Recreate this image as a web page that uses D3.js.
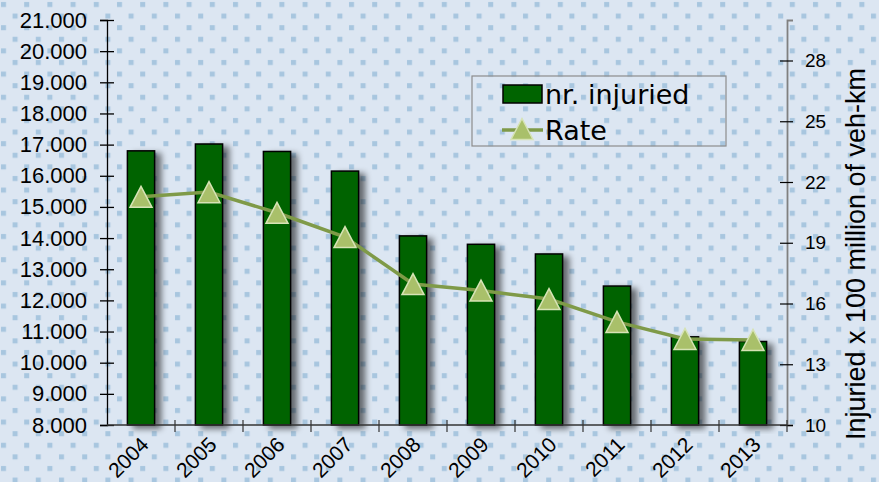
<!DOCTYPE html>
<html>
<head>
<meta charset="utf-8">
<script src="https://cdn.jsdelivr.net/npm/d3@7"></script>
<title>Injured</title>
<style>
body { margin: 0; }
</style>
</head>
<body>
<script>

var years = ["2004", "2005", "2006", "2007", "2008", "2009", "2010", "2011", "2012", "2013"];
var injured = [16800, 17020, 16780, 16150, 14070, 13800, 13490, 12460, 10830, 10680];
var rate = [21.27, 21.5, 20.48, 19.28, 16.96, 16.64, 16.22, 15.09, 14.25, 14.2];
var leftTicks = d3.range(8000, 21001, 1000);
var rightTicks = [10, 13, 16, 19, 22, 25, 28];

var width = 879,
    height = 482;

var svg = d3.select( "body" )
  .append( "svg" )
  .attr( "width", width )
  .attr( "height", height );

var defs = svg.append( "defs" );

// dotted slide background
var pat = defs.append( "pattern" )
  .attr( "id", "dots" )
  .attr( "patternUnits", "userSpaceOnUse" )
  .attr( "width", 23.2 )
  .attr( "height", 23.2 );
pat.append( "rect" ).attr( "width", 23.2 ).attr( "height", 23.2 ).attr( "fill", "#dce6f2" );
pat.append( "rect" ).attr( "x", 1 ).attr( "y", 2 ).attr( "width", 5 ).attr( "height", 5 ).attr( "fill", "#a8c6df" );
pat.append( "rect" ).attr( "x", 12.6 ).attr( "y", 13.6 ).attr( "width", 5 ).attr( "height", 5 ).attr( "fill", "#a8c6df" );

var f = defs.append( "filter" )
  .attr( "id", "shadow" )
  .attr( "x", "-30%" ).attr( "y", "-10%" )
  .attr( "width", "180%" ).attr( "height", "120%" );
f.append( "feGaussianBlur" ).attr( "in", "SourceAlpha" ).attr( "stdDeviation", 3 );
f.append( "feOffset" ).attr( "dx", 6 ).attr( "dy", 3 );
f.append( "feComponentTransfer" ).append( "feFuncA" ).attr( "type", "linear" ).attr( "slope", 0.55 );
var fm = f.append( "feMerge" );
fm.append( "feMergeNode" );
fm.append( "feMergeNode" ).attr( "in", "SourceGraphic" );

svg.append( "rect" )
  .attr( "width", width )
  .attr( "height", height )
  .attr( "fill", "url(#dots)" );

var mLeft = 107, mRight = 787, mTop = 20, mBottom = 425;

var x = d3.scaleBand()
  .domain( years )
  .range( [mLeft, mRight] );

var y = d3.scaleLinear()
  .domain( [8000, 21000] )
  .range( [mBottom, mTop] );

var yR = d3.scaleLinear()
  .domain( [10, 30] )
  .range( [mBottom, mTop] );

var fmt = d3.formatLocale({ decimal: ",", thousands: ".", grouping: [3], currency: ["", ""] }).format( ",.0f" );

var barW = x.bandwidth() * 0.4;

// bars
svg.append( "g" )
  .selectAll( "rect" )
  .data( injured )
  .enter()
  .append( "rect" )
  .attr( "x", function(d, i) { return x(years[i]) + x.bandwidth() / 2 - barW / 2; } )
  .attr( "y", function(d) { return y(d); } )
  .attr( "width", barW )
  .attr( "height", function(d) { return mBottom - y(d); } )
  .attr( "fill", "#006400" )
  .attr( "stroke", "#000" )
  .attr( "stroke-width", 1.5 )
  .attr( "filter", "url(#shadow)" );

// left axis
svg.append( "g" )
  .attr( "transform", "translate(" + mLeft + ",0)" )
  .call( d3.axisLeft(y).tickValues(leftTicks).tickFormat(fmt).tickSize(7).tickPadding(13) )
  .call( function(g) {
    g.select( ".domain" ).attr( "stroke", "#000" ).attr( "stroke-width", 1.3 );
    g.selectAll( ".tick line" ).attr( "x1", -7 ).attr( "x2", 7 ).attr( "stroke", "#000" ).attr( "stroke-width", 1.3 );
    g.selectAll( "text" ).attr( "font-family", "Liberation Sans, Arial" ).attr( "font-size", 22 ).attr( "fill", "#000" );
  });

// right axis
svg.append( "g" )
  .attr( "transform", "translate(" + mRight + ",0)" )
  .call( d3.axisRight(yR).tickValues(rightTicks).tickSize(6).tickPadding(12) )
  .call( function(g) {
    g.select( ".domain" ).attr( "stroke", "#808080" ).attr( "stroke-width", 1.8 );
    g.selectAll( ".tick line" ).attr( "x1", -7 ).attr( "x2", 6 ).attr( "stroke", "#000" ).attr( "stroke-width", 1.2 );
    g.selectAll( "text" ).attr( "font-family", "Liberation Sans, Arial" ).attr( "font-size", 19 ).attr( "fill", "#000" );
  });

// bottom axis
var xa = svg.append( "g" )
  .attr( "transform", "translate(0," + mBottom + ")" );
xa.append( "line" )
  .attr( "x1", mLeft ).attr( "x2", mRight )
  .attr( "stroke", "#333" ).attr( "stroke-width", 1.3 );
xa.selectAll( "line.t" )
  .data( years.slice(1).concat(["end"]) )
  .enter()
  .append( "line" )
  .attr( "class", "t" )
  .attr( "x1", function(d) { return d == "end" ? mRight : x(d); } )
  .attr( "x2", function(d) { return d == "end" ? mRight : x(d); } )
  .attr( "y1", -5 ).attr( "y2", 7 )
  .attr( "stroke", "#333" ).attr( "stroke-width", 1.2 );
xa.selectAll( "text" )
  .data( years )
  .enter()
  .append( "text" )
  .attr( "transform", function(d) { return "translate(" + (x(d) + x.bandwidth() / 2 + 9) + ",21) rotate(-45)"; } )
  .attr( "text-anchor", "end" )
  .attr( "font-family", "Liberation Sans, Arial" )
  .attr( "font-size", 21 )
  .text( function(d) { return d; } );

// rate line
var line = d3.line()
  .x( function(d, i) { return x(years[i]) + x.bandwidth() / 2; } )
  .y( function(d) { return yR(d); } );

svg.append( "path" )
  .datum( rate )
  .attr( "d", line )
  .attr( "fill", "none" )
  .attr( "stroke", "#7f9a48" )
  .attr( "stroke-width", 3.5 );

var tri = "M0,-10.5L11,10.5L-11,10.5Z";

svg.append( "g" )
  .selectAll( "path" )
  .data( rate )
  .enter()
  .append( "path" )
  .attr( "d", tri )
  .attr( "transform", function(d, i) { return "translate(" + (x(years[i]) + x.bandwidth() / 2) + "," + yR(d) + ")"; } )
  .attr( "fill", "#a9c06a" )
  .attr( "stroke", "#d6e3b5" )
  .attr( "stroke-width", 1.5 );

// right title
svg.append( "text" )
  .attr( "transform", "translate(865,254) rotate(-90)" )
  .attr( "text-anchor", "middle" )
  .attr( "font-family", "Liberation Sans, Arial" )
  .attr( "font-size", 27 )
  .text( "Injuried x 100 million of veh-km" );

// legend
var lg = svg.append( "g" );
lg.append( "rect" )
  .attr( "x", 472 ).attr( "y", 76 )
  .attr( "width", 254 ).attr( "height", 70 )
  .attr( "fill", "none" )
  .attr( "stroke", "#8c8c8c" ).attr( "stroke-width", 1.2 );
lg.append( "rect" )
  .attr( "x", 503 ).attr( "y", 85 )
  .attr( "width", 39 ).attr( "height", 18 )
  .attr( "fill", "#006400" ).attr( "stroke", "#000" ).attr( "stroke-width", 1.5 );
lg.append( "line" )
  .attr( "x1", 502 ).attr( "x2", 543 ).attr( "y1", 130 ).attr( "y2", 130 )
  .attr( "stroke", "#7f9a48" ).attr( "stroke-width", 3.5 );
lg.append( "path" )
  .attr( "d", tri )
  .attr( "transform", "translate(522,129)" )
  .attr( "fill", "#a9c06a" ).attr( "stroke", "#d6e3b5" ).attr( "stroke-width", 1.5 );
lg.selectAll( "text" )
  .data( ["nr. injuried", "Rate"] )
  .enter()
  .append( "text" )
  .attr( "x", 545 )
  .attr( "y", function(d, i) { return 104 + i * 36; } )
  .attr( "font-family", "DejaVu Sans" )
  .attr( "font-size", 27 )
  .text( function(d) { return d; } );

</script>
</body>
</html>
